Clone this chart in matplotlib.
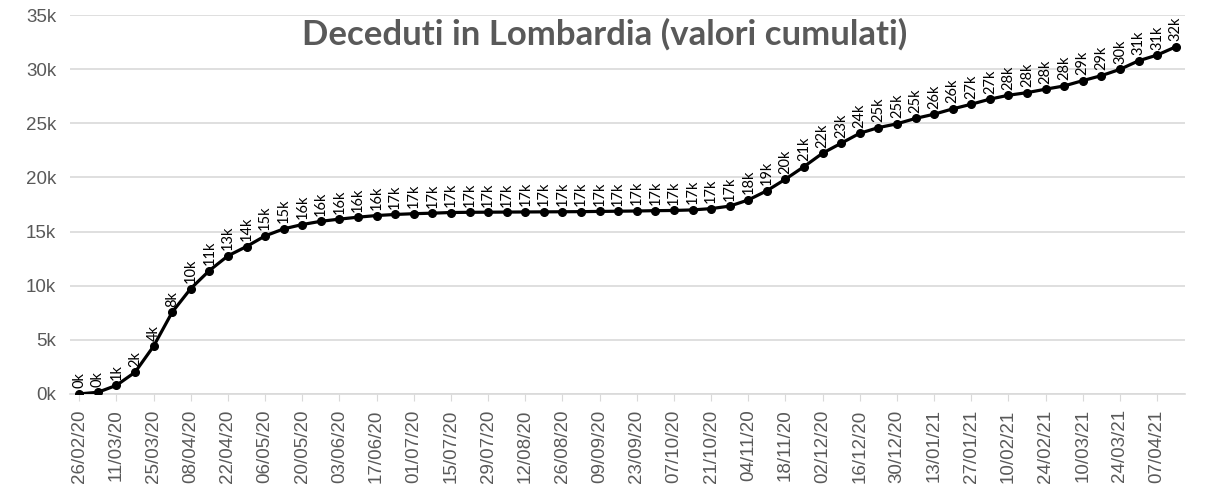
import matplotlib
matplotlib.use("Agg")
import matplotlib.pyplot as plt
import pandas as pd

# weekly cumulative deaths, Lombardia
start = "2020-02-26"
n_weeks = 60
deaths = [9, 160, 800, 2010, 4420, 7560, 9740, 11400, 12760, 13620,
          14600, 15250, 15650, 15950, 16150, 16330, 16480, 16580, 16650, 16700,
          16760, 16780, 16790, 16800, 16810, 16820, 16830, 16840, 16860, 16880,
          16900, 16930, 16950, 17000, 17120, 17350, 17920, 18770, 19840, 21000,
          22240, 23160, 24080, 24600, 24950, 25450, 25840, 26330, 26760, 27230,
          27590, 27830, 28150, 28450, 28940, 29400, 29980, 30770, 31300, 32060]

dates = pd.date_range(start, periods=n_weeks, freq="7D")
date_labels = [d.strftime("%d/%m/%y") for d in dates]
labels = [f"{round(v / 1000):.0f}k" for v in deaths]

title = "Deceduti in Lombardia (valori cumulati)"
yticks = [0, 5000, 10000, 15000, 20000, 25000, 30000, 35000]

grey = "#595959"

fig = plt.figure(figsize=(12.09, 4.95), dpi=100)
ax = fig.add_axes([70 / 1209, 1 - 394 / 495, 1115 / 1209, 379 / 495])

x = list(range(n_weeks))
ax.plot(x, deaths, color="black", lw=2.3, marker="o", ms=5.5, zorder=3)

for xi, v, lab in zip(x, deaths, labels):
    ax.annotate(lab, (xi, v), xytext=(0, 4), textcoords="offset points",
                rotation=90, ha="center", va="bottom", fontsize=10.5,
                family="Lato", color="black")

ax.set_xlim(-0.5, n_weeks - 0.5)
ax.set_ylim(0, 35000)
ax.set_yticks(yticks)
ax.set_yticklabels([f"{t // 1000}k" for t in yticks])
ax.set_xticks(x[::2])
ax.set_xticklabels(date_labels[::2], rotation=90)

ax.yaxis.grid(True, color="#d9d9d9", lw=1.2)
ax.set_axisbelow(True)
for s in ["top", "right", "left"]:
    ax.spines[s].set_visible(False)
ax.spines["bottom"].set_color("#d9d9d9")
ax.spines["bottom"].set_linewidth(1.2)
ax.tick_params(axis="y", length=0, pad=10, labelsize=13.5, labelcolor=grey)
ax.tick_params(axis="x", length=5, color="#d9d9d9", pad=6, labelsize=13.5,
               labelcolor=grey)
for t in ax.get_xticklabels() + ax.get_yticklabels():
    t.set_family("Liberation Sans")

fig.text(0.5, 0.93, title, ha="center", va="center", fontsize=25,
         fontweight="bold", color=grey, family="Lato")

fig.savefig("out.png", dpi=100)
